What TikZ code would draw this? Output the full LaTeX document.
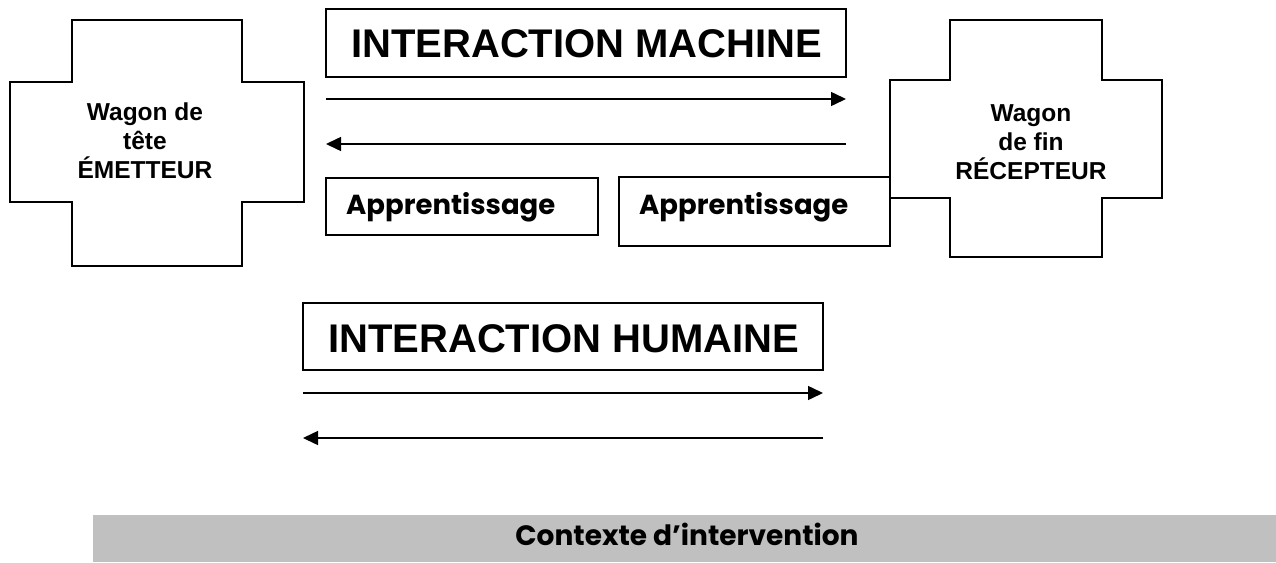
\documentclass[tikz,border=0pt]{standalone}
\usepackage{fontspec}
\setmainfont{Liberation Sans}
\newfontfamily\gothic{Poppins}
\usetikzlibrary{arrows.meta}
\definecolor{bargray}{HTML}{C0C0C0}
\tikzset{
  outline/.style={draw=black, line width=1.5pt},
  flow/.style={draw=black, line width=1.5pt, -{Triangle[length=15pt,width=14pt]}},
  bigtitle/.style={font=\fontsize{40}{44}\selectfont\bfseries, anchor=base west, inner sep=0pt},
  wagontext/.style={font=\fontsize{24.5}{29}\selectfont\bfseries, align=center, inner sep=0pt},
  learntext/.style={font=\gothic\fontsize{27.5}{30}\selectfont\bfseries, anchor=base west, inner sep=0pt},
}
\begin{document}
\begin{tikzpicture}[x=1pt,y=-1pt]
\useasboundingbox (0,0) rectangle (1276,562);
% left cross
\draw[outline] (72,20) -- (242,20) -- (242,82) -- (304,82) -- (304,202) -- (242,202) -- (242,266) -- (72,266) -- (72,202) -- (10,202) -- (10,82) -- (72,82) -- cycle;
\node[wagontext] (emit) at (145,141) {Wagon de\\tête\\ÉMETTEUR};
% right cross
\draw[outline] (950,20) -- (1102,20) -- (1102,80) -- (1162,80) -- (1162,198) -- (1102,198) -- (1102,257) -- (950,257) -- (950,198) -- (890,198) -- (890,80) -- (950,80) -- cycle;
\node[wagontext] (recv) at (1031,142) {Wagon\\de fin\\RÉCEPTEUR};
% interaction machine
\draw[outline] (326,9) rectangle (846,77);
\node[bigtitle] (im) at (351,57) {INTERACTION MACHINE};
\coordinate (m1a) at (326,99);
\coordinate (m1b) at (846,99);
\coordinate (m2a) at (846,144);
\coordinate (m2b) at (326,144);
\draw[flow] (m1a) -- (m1b);
\draw[flow] (m2a) -- (m2b);
% apprentissage boxes
\draw[outline] (326,178) rectangle (598,235);
\node[learntext] (ap1) at (346,214) {Apprentissage};
\draw[outline] (619,177) rectangle (890,246);
\node[learntext] (ap2) at (639,214) {Apprentissage};
% interaction humaine
\draw[outline] (303,303) rectangle (823,370);
\node[bigtitle] (ih) at (328,352) {INTERACTION HUMAINE};
\coordinate (h1a) at (303,393);
\coordinate (h1b) at (823,393);
\coordinate (h2a) at (823,438);
\coordinate (h2b) at (303,438);
\draw[flow] (h1a) -- (h1b);
\draw[flow] (h2a) -- (h2b);
% context bar
\fill[bargray] (93,515) rectangle (1276,562);
\node[font=\gothic\fontsize{28}{32}\selectfont\bfseries, anchor=base, inner sep=0pt] (ctx) at (687,545) {Contexte d’intervention};
\end{tikzpicture}
\end{document}
